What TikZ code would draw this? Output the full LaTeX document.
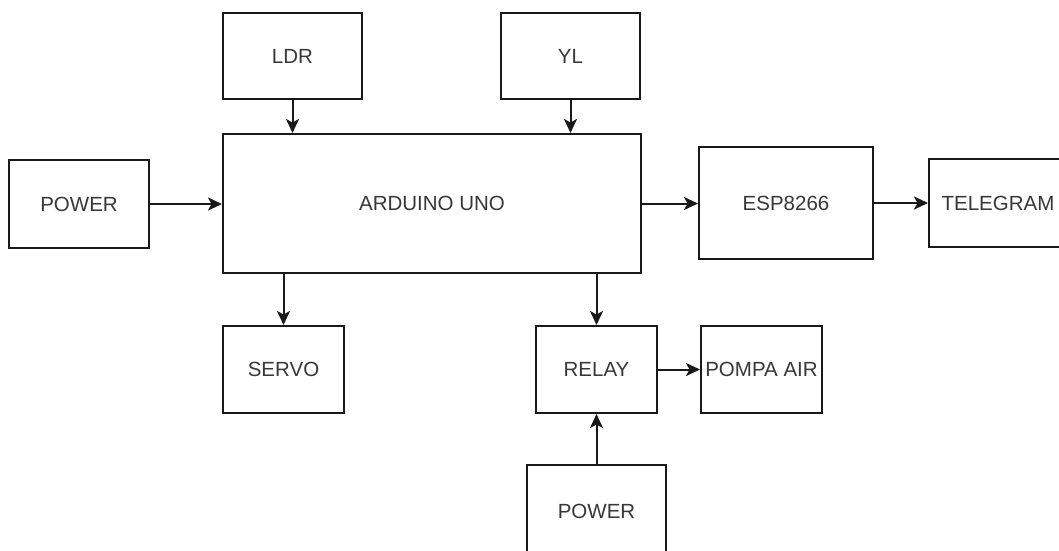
\documentclass[tikz,border=0pt]{standalone}
\usepackage{fontspec}
\setmainfont{Liberation Sans}
\usetikzlibrary{arrows.meta}
\begin{document}
\begin{tikzpicture}[x=1pt,y=-1pt,
  blk/.style={draw=black!90, line width=2pt, rectangle, inner sep=0pt,
    font=\fontsize{20.5}{24}\selectfont, text=black!78},
  conn/.style={draw=black!90, line width=2pt,
    -{Stealth[length=14pt,width=13pt,inset=3.5pt]}}]
\useasboundingbox[fill=white] (0,0) rectangle (1059,550);
\clip (0,0) rectangle (1059,550);
\node[blk, minimum width=139pt, minimum height=86pt] (ldr) at (292.5,56) {LDR};
\node[blk, minimum width=139pt, minimum height=86pt] (yl) at (570.5,56) {YL};
\node[blk, minimum width=418pt, minimum height=139pt] (ard) at (432,203.5) {ARDUINO UNO};
\node[blk, minimum width=140pt, minimum height=88pt] (pwra) at (79,204) {POWER};
\node[blk, minimum width=174pt, minimum height=112pt] (esp) at (786,203) {ESP8266};
\node[blk, minimum height=88pt, anchor=west] (tel) at (928,203) {\makebox[138pt]{TELEGRAM}\hspace{80pt}};
\node[blk, minimum width=121pt, minimum height=87pt] (servo) at (283.5,369.5) {SERVO};
\node[blk, minimum width=121pt, minimum height=87pt] (relay) at (596.5,369.5) {RELAY};
\node[blk, minimum width=121pt, minimum height=87pt] (pompa) at (761.5,369.5) {POMPA AIR};
\node[blk, minimum width=139pt, minimum height=92pt] (pwrb) at (596.5,511) {POWER};
\draw[conn] (ldr.south) -- (ldr.south |- ard.north);
\draw[conn] (yl.south) -- (yl.south |- ard.north);
\draw[conn] (pwra.east) -- (pwra.east -| ard.west);
\draw[conn] (ard.east) -- (ard.east -| esp.west);
\draw[conn, line width=2.8pt] (esp.east) -- (esp.east -| tel.west);
\draw[conn] (servo.north |- ard.south) -- (servo.north);
\draw[conn] (relay.north |- ard.south) -- (relay.north);
\draw[conn] (relay.east) -- (relay.east -| pompa.west);
\draw[conn] (pwrb.north) -- (relay.south);
\end{tikzpicture}
\end{document}
